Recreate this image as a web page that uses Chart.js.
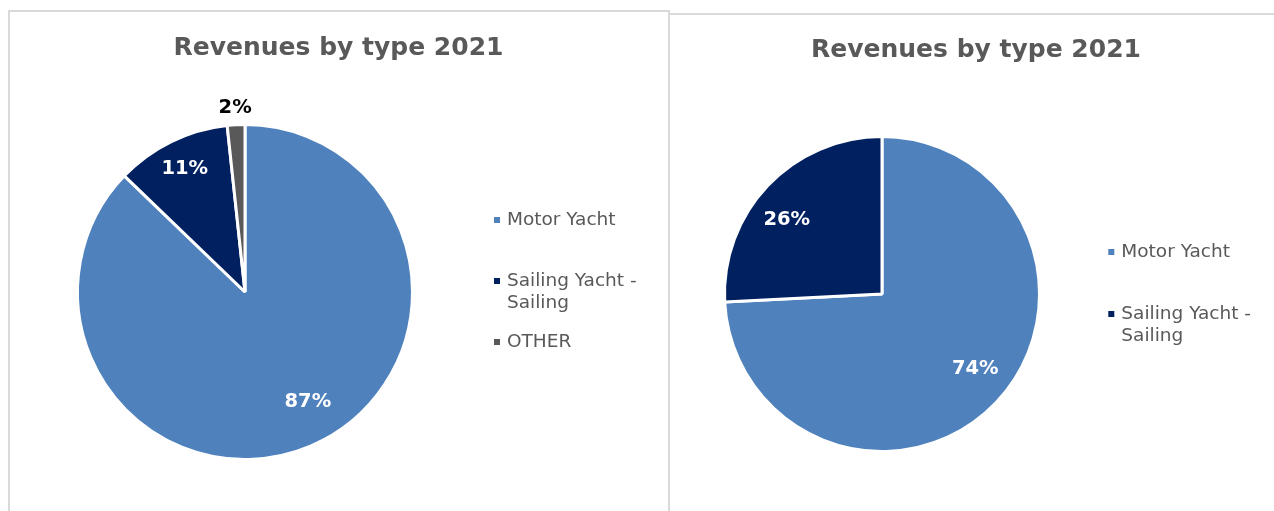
<!DOCTYPE html>
<html>
<head>
<meta charset="utf-8">
<script src="https://cdn.jsdelivr.net/npm/chart.js@4.4.1/dist/chart.umd.min.js"></script>
<style>
  html, body { margin: 0; padding: 0; background: #fff; overflow: hidden; width: 1274px; height: 511px; }
  .panel { position: absolute; box-sizing: border-box; border: 0 solid #d9d9d9; }
  #panelLeft { left: 8px; top: 10px; width: 662px; height: 600px; border-width: 2px 2px 0 2px; }
  #panelRight { left: 668px; top: 13px; width: 700px; height: 600px; border-width: 2px 0 0 0; }
  canvas { position: absolute; }
  #leftChart { left: 8px; top: 10px; }
  #rightChart { left: 669px; top: 13px; }
</style>
</head>
<body>
<div class="panel" id="panelLeft"></div>
<div class="panel" id="panelRight"></div>
<canvas id="leftChart" width="661" height="501"></canvas>
<canvas id="rightChart" width="614" height="498"></canvas>
<script>
// Two pies: revenue split by yacht type, 2021

var titleText = 'Revenues by type 2021';

var leftCategories = ['Motor Yacht', 'Sailing Yacht - Sailing', 'OTHER'];
var leftValues = [87.2, 11.1, 1.7];

var rightCategories = ['Motor Yacht', 'Sailing Yacht - Sailing'];
var rightValues = [74.2, 25.8];

var sliceColors = ['#4F81BD', '#002060', '#595959'];

var FONT = '"DejaVu Sans", Verdana, sans-serif';
var GREY = '#595959';

function wrapText(ctx, text, maxWidth) {
  var words = text.split(' '), lines = [], line = '';
  words.forEach(function(w) {
    var test = line ? line + ' ' + w : w;
    if (line && ctx.measureText(test).width > maxWidth) { lines.push(line); line = w; }
    else line = test;
  });
  if (line) lines.push(line);
  return lines;
}

// title, percentage labels and legend, drawn after the slices
var panelText = {
  id: 'panelText',
  afterDatasetsDraw: function(chart, args, opts) {
    var ctx = chart.ctx, area = chart.chartArea;
    var ds = chart.data.datasets[0];
    var meta = chart.getDatasetMeta(0);
    var total = ds.data.reduce(function(a, b) { return a + b; }, 0);
    ctx.save();
    ctx.textBaseline = 'middle';

    ctx.fillStyle = GREY;
    ctx.textAlign = 'center';
    ctx.font = 'bold 25px ' + FONT;
    ctx.fillText(opts.title, chart.width / 2, opts.titleY);

    ctx.font = 'bold 19.5px ' + FONT;
    meta.data.forEach(function(arc, i) {
      var p = arc.getProps(['x', 'y', 'startAngle', 'endAngle', 'outerRadius'], true);
      var mid = (p.startAngle + p.endAngle) / 2 + opts.labelShift[i] * Math.PI / 180;
      var r = (p.outerRadius + ds.borderWidth / 2) * opts.labelRadius[i];
      ctx.fillStyle = opts.labelColor[i];
      ctx.fillText(Math.round(ds.data[i] / total * 100) + '%', p.x + Math.cos(mid) * r, p.y + Math.sin(mid) * r);
    });

    ctx.font = '18.5px ' + FONT;
    ctx.textAlign = 'left';
    var lineH = 22, stride = opts.legendStride;
    var items = chart.data.labels.map(function(l) { return wrapText(ctx, l, 150); });
    var extra = items.reduce(function(a, l) { return a + l.length - 1; }, 0);
    var cy = (area.top + area.bottom) / 2;
    var y = cy - (items.length - 1) * stride / 2 - extra * lineH / 2;
    var mx = area.right + opts.legendGap;
    items.forEach(function(lines, i) {
      ctx.fillStyle = ds.backgroundColor[i];
      ctx.fillRect(mx, y - 3, 6, 6);
      ctx.fillStyle = GREY;
      lines.forEach(function(t, k) { ctx.fillText(t, mx + 13, y + k * lineH); });
      y += stride;
    });
    ctx.restore();
  }
};

function makePie(id, categories, values, padding, textOpts) {
  return new Chart(document.getElementById(id), {
    type: 'pie',
    data: {
      labels: categories,
      datasets: [{
        data: values,
        backgroundColor: sliceColors.slice(0, values.length),
        borderColor: '#ffffff',
        borderWidth: 3
      }]
    },
    options: {
      responsive: false,
      animation: false,
      layout: { padding: padding },
      plugins: {
        legend: { display: false },
        title: { display: false },
        tooltip: { enabled: false },
        panelText: textOpts
      }
    },
    plugins: [panelText]
  });
}

makePie('leftChart', leftCategories, leftValues,
  { top: 113, left: 68, right: 255, bottom: 50 },
  { title: titleText, titleY: 38,
    labelRadius: [0.75, 0.81, 1.09], labelShift: [-6.7, 0, 0],
    labelColor: ['#ffffff', '#ffffff', '#000000'],
    legendGap: 80, legendStride: 61 });

makePie('rightChart', rightCategories, rightValues,
  { top: 122, left: 54, right: 242, bottom: 58 },
  { title: titleText, titleY: 37,
    labelRadius: [0.754, 0.76], labelShift: [-4.6, -5.6],
    labelColor: ['#ffffff', '#ffffff'],
    legendGap: 67.3, legendStride: 62 });
</script>
</body>
</html>
